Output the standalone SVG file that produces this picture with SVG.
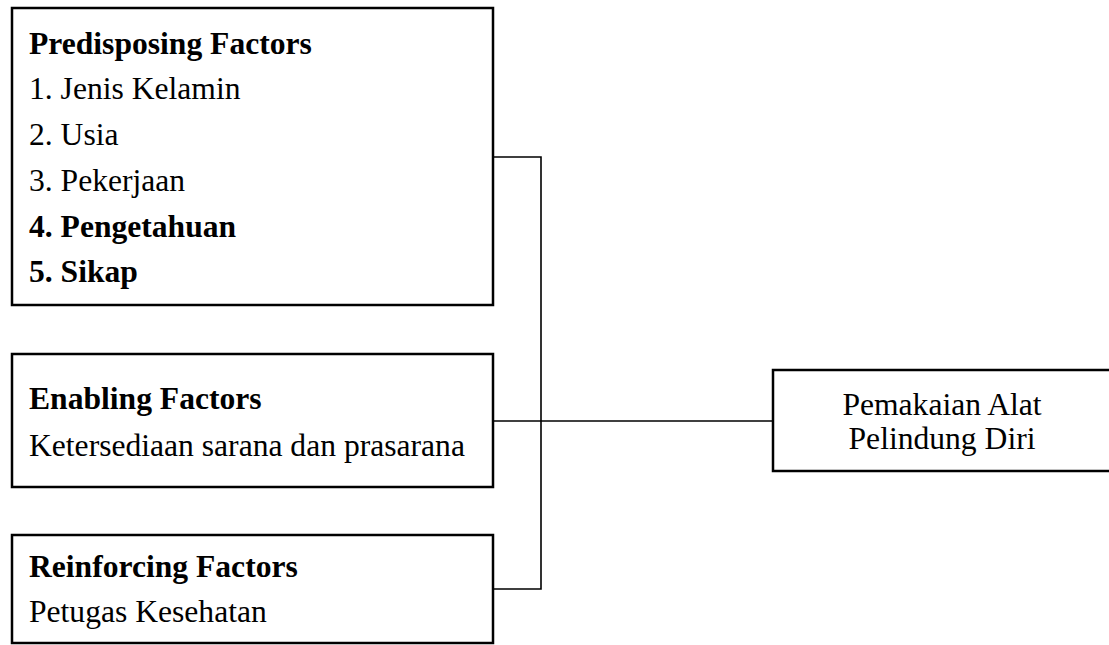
<svg xmlns="http://www.w3.org/2000/svg" width="1109" height="645" viewBox="0 0 1109 645">
<style>
.box{fill:#fff;stroke:#000;stroke-width:2.5}
.con{fill:none;stroke:#000;stroke-width:1.6}
.t{font-size:31.6px;fill:#000}
.b{font-weight:bold}
</style>
<rect width="1109" height="645" fill="#fff"/>
<g id="connectors">
<polyline class="con" points="493,157 541,157 541,589 493,589"/>
<line class="con" x1="493" y1="421" x2="773" y2="421"/>
</g>
<g font-family="Liberation Serif, Times New Roman, Times, serif">
<g id="predisposing">
<rect class="box" x="12" y="8" width="481" height="297"/>
<text class="t b" x="29" y="54">Predisposing Factors</text>
<text class="t" x="29" y="99">1. Jenis Kelamin</text>
<text class="t" x="29" y="145">2. Usia</text>
<text class="t" x="29" y="191">3. Pekerjaan</text>
<text class="t b" x="29" y="237">4. Pengetahuan</text>
<text class="t b" x="29" y="282">5. Sikap</text>
</g>
<g id="enabling">
<rect class="box" x="12" y="354" width="481" height="133"/>
<text class="t b" x="29" y="409">Enabling Factors</text>
<text class="t" x="29" y="456">Ketersediaan sarana dan prasarana</text>
</g>
<g id="reinforcing">
<rect class="box" x="12" y="535" width="481" height="108"/>
<text class="t b" x="29" y="577">Reinforcing Factors</text>
<text class="t" x="29" y="622">Petugas Kesehatan</text>
</g>
<g id="pemakaian">
<rect class="box" x="773" y="370" width="340" height="101"/>
<text class="t" x="942" y="415" text-anchor="middle">Pemakaian Alat</text>
<text class="t" x="942" y="449" text-anchor="middle">Pelindung Diri</text>
</g>
</g>
</svg>
